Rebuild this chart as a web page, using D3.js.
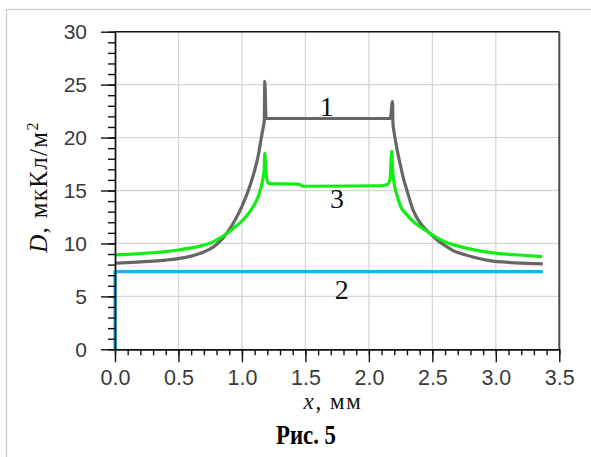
<!DOCTYPE html>
<html>
<head>
<meta charset="utf-8">
<script src="https://cdn.jsdelivr.net/npm/d3@7"></script>
<style>
  body { margin: 0; background: #fff; }
  svg { display: block; }
</style>
</head>
<body>
<svg id="chart" width="591" height="457"></svg>
<script>
// Tick values
const xTicks = [0, 0.5, 1.0, 1.5, 2.0, 2.5, 3.0, 3.5];
const yTicks = [0, 5, 10, 15, 20, 25, 30];

// Curve 1: charge density, grey
const curve1X = [0, 0.1, 0.2, 0.3, 0.4, 0.5, 0.6, 0.65, 0.7, 0.75, 0.8, 0.85, 0.9, 0.95, 1.0, 1.05, 1.1, 1.13, 1.15, 1.165, 1.176,
                 1.18, 1.19, 2.168, 2.186, 2.19, 2.2, 2.22, 2.25, 2.273, 2.3, 2.35, 2.4, 2.45, 2.5, 2.55, 2.6, 2.667, 2.75, 2.85,
                 2.95, 3.05, 3.15, 3.25, 3.37];
const curve1D = [8.13, 8.18, 8.25, 8.33, 8.43, 8.57, 8.8, 8.98, 9.2, 9.48, 9.9, 10.5, 11.3, 12.3, 13.5, 15.0, 16.9, 18.4, 19.8, 20.8, 21.6,
                 25.3, 21.8, 21.8, 23.4, 21.3, 20.4, 19.0, 17.3, 16.1, 15.0, 13.1, 12.0, 11.3, 10.75, 10.2, 9.8, 9.3, 8.95, 8.62,
                 8.38, 8.25, 8.17, 8.11, 8.07];

// Curve 2: blue step
const curve2X = [0, 0, 3.37];
const curve2D = [0, 7.33, 7.33];

// Curve 3: green
const curve3X = [0, 0.1, 0.2, 0.3, 0.4, 0.5, 0.6, 0.67, 0.75, 0.84, 0.9, 0.95, 1.0, 1.05, 1.1, 1.13, 1.15, 1.165, 1.175,
                 1.18, 1.188, 1.195, 1.205, 1.22, 1.45, 1.48, 2.1, 2.15, 2.168, 2.18, 2.186, 2.195, 2.22, 2.25, 2.3, 2.35,
                 2.4, 2.45, 2.5, 2.55, 2.6, 2.667, 2.75, 2.85, 2.95, 3.05, 3.15, 3.25, 3.363];
const curve3D = [8.92, 8.97, 9.04, 9.12, 9.23, 9.38, 9.58, 9.75, 10.03, 10.6, 11.1, 11.6, 12.1, 12.8, 13.7, 14.5, 15.3, 16.1, 17.0,
                 18.5, 17.0, 16.1, 15.75, 15.65, 15.6, 15.4, 15.45, 15.6, 16.2, 18.7, 17.2, 16.0, 14.6, 13.5, 12.7, 12.07,
                 11.6, 11.2, 10.8, 10.45, 10.15, 9.87, 9.6, 9.35, 9.15, 9.02, 8.93, 8.85, 8.76];

// Curve number labels: [text, x, D]
const curveLabels = [["1", 1.669, 22.0], ["3", 1.748, 13.37], ["2", 1.787, 4.73]];

const svg = d3.select("#chart");

// outer frame
svg.append("rect")
  .attr("x", 6.5).attr("y", 9.5).attr("width", 600).attr("height", 460)
  .attr("fill", "#fff").attr("stroke", "#d2d2d2").attr("stroke-width", 1.5);

const x = d3.scaleLinear().domain([0, 3.5]).range([115, 559.3]);
const y = d3.scaleLinear().domain([0, 30]).range([349.3, 31.7]);

// grid
const grid = svg.append("g").attr("stroke", "#d6d6d6").attr("stroke-width", 1.3);
grid.selectAll("line.vx").data(xTicks.filter(v => v > 0 && v < 3.5)).join("line")
  .attr("x1", d => x(d)).attr("x2", d => x(d)).attr("y1", y(30)).attr("y2", y(0));
grid.selectAll("line.hy").data(yTicks.filter(v => v > 0 && v < 30)).join("line")
  .attr("x1", x(0)).attr("x2", x(3.5)).attr("y1", d => y(d)).attr("y2", d => y(d));

// plot frame: top and right
svg.append("line").attr("x1", x(0)).attr("x2", x(3.5)).attr("y1", y(30)).attr("y2", y(30))
  .attr("stroke", "#111").attr("stroke-width", 1.4);
svg.append("line").attr("x1", x(3.5)).attr("x2", x(3.5)).attr("y1", y(30)).attr("y2", y(0))
  .attr("stroke", "#4a4a4a").attr("stroke-width", 2);

// curves
const smooth = d3.line().x(d => x(d[0])).y(d => y(d[1])).curve(d3.curveMonotoneX);
const straight = d3.line().x(d => x(d[0])).y(d => y(d[1]));
const series = [
  { xs: curve1X, ds: curve1D, color: "#666666", gen: smooth },
  { xs: curve3X, ds: curve3D, color: "#11ee11", gen: smooth },
  { xs: curve2X, ds: curve2D, color: "#12b4f4", gen: straight }
];
series.forEach(s => {
  svg.append("path")
    .datum(s.xs.map((v, i) => [v, s.ds[i]]))
    .attr("d", s.gen)
    .attr("fill", "none")
    .attr("stroke", s.color)
    .attr("stroke-width", 3.2)
    .attr("stroke-linejoin", "round");
});

// axes
const tickFont = "'Liberation Sans', Arial, sans-serif";
function styleAxis(g) {
  g.select(".domain").attr("stroke", "#111").attr("stroke-width", 1.4);
  g.selectAll(".tick line").attr("stroke", "#111").attr("stroke-width", 1.4);
  g.selectAll(".tick text").attr("fill", "#3a3a3a").style("font-family", tickFont);
}

// minor ticks
svg.append("g").attr("transform", `translate(${x(0)},0)`)
  .call(d3.axisLeft(y).tickValues(d3.range(0, 31, 1)).tickSize(7).tickFormat("").tickSizeOuter(0))
  .call(styleAxis);
svg.append("g").attr("transform", `translate(0,${y(0)})`)
  .call(d3.axisBottom(x).tickValues(d3.range(0, 36, 1).map(v => v / 10)).tickSize(6).tickFormat("").tickSizeOuter(0))
  .call(styleAxis);

// major ticks
svg.append("g").attr("transform", `translate(${x(0)},0)`)
  .call(d3.axisLeft(y).tickValues(yTicks).tickSize(14).tickPadding(14).tickFormat(d3.format("d")).tickSizeOuter(0))
  .call(styleAxis)
  .call(g => g.selectAll(".tick text").style("font-size", "21px"));
svg.append("g").attr("transform", `translate(0,${y(0)})`)
  .call(d3.axisBottom(x).tickValues(xTicks).tickSize(13).tickPadding(7).tickFormat(d3.format(".1f")).tickSizeOuter(0))
  .call(styleAxis)
  .call(g => g.selectAll(".tick text").style("font-size", "21.5px"));

const serif = "'Liberation Serif', 'Times New Roman', serif";

// y title
const yt = svg.append("text")
  .attr("transform", "translate(47,187) rotate(-90)")
  .attr("text-anchor", "middle")
  .style("font-family", serif).style("font-size", "25px").style("letter-spacing", "1.3px")
  .attr("fill", "#111");
yt.append("tspan").style("font-style", "italic").text("D");
yt.append("tspan").text(", мкКл/м");
yt.append("tspan").attr("dy", -9).style("font-size", "16px").text("2");

// x title
const xt = svg.append("text")
  .attr("x", 333).attr("y", 409)
  .attr("text-anchor", "middle")
  .style("font-family", serif).style("font-size", "23px").style("letter-spacing", "1.6px")
  .attr("fill", "#111");
xt.append("tspan").style("font-style", "italic").text("x");
xt.append("tspan").text(", мм");

// caption
svg.append("text")
  .attr("x", 306).attr("y", 444)
  .attr("text-anchor", "middle")
  .attr("textLength", 60).attr("lengthAdjust", "spacingAndGlyphs")
  .style("font-family", serif).style("font-size", "28px").style("font-weight", "bold")
  .attr("fill", "#000")
  .text("Рис. 5");

// curve numbers
svg.selectAll("text.num").data(curveLabels).join("text")
  .attr("class", "num")
  .attr("x", d => x(d[1])).attr("y", d => y(d[2]))
  .attr("text-anchor", "middle")
  .style("font-family", serif).style("font-size", "28px").attr("fill", "#111")
  .text(d => d[0]);
</script>
</body>
</html>
